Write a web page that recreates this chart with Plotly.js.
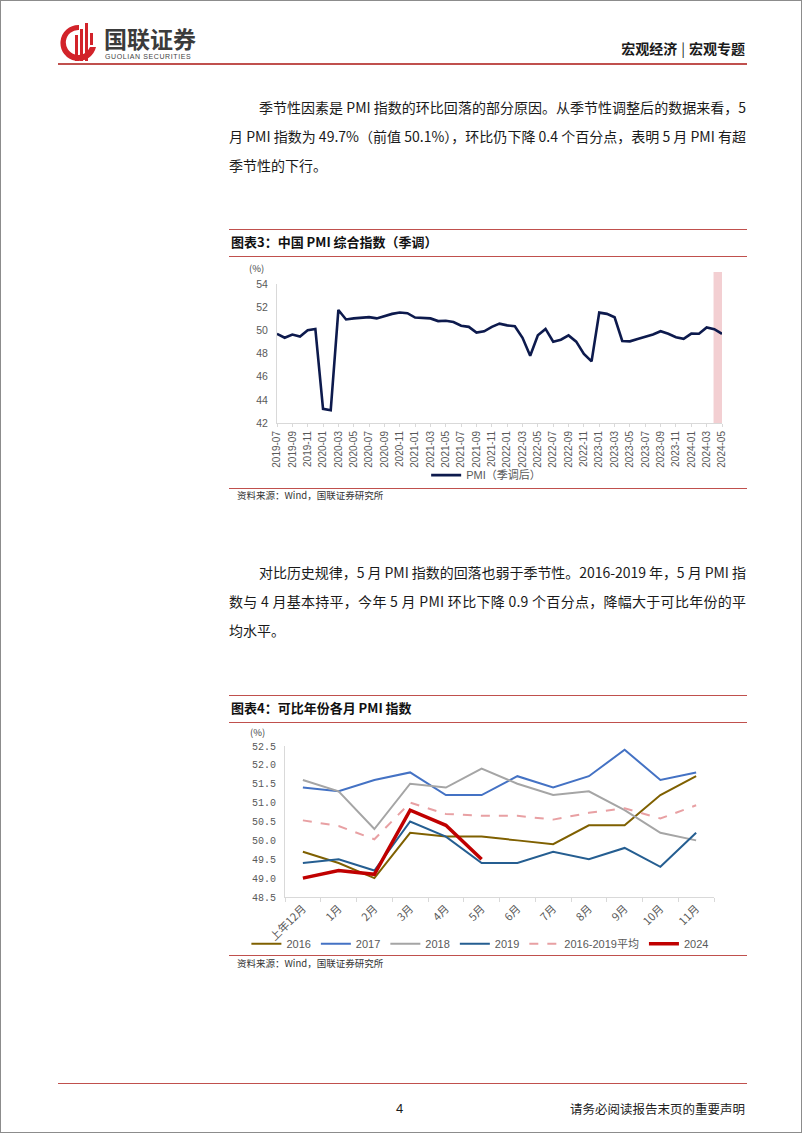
<!DOCTYPE html>
<html>
<head>
<meta charset="utf-8">
<script src="https://cdn.plot.ly/plotly-3.0.1.min.js"></script>
<style>
  html, body { margin:0; padding:0; background:#fff; }
  #page { position:relative; width:802px; height:1133px; box-sizing:border-box; border:1px solid #8c8c8c; overflow:hidden;
          font-family:"Noto Sans CJK SC","Noto Sans",sans-serif; color:#1a1a1a; }
  .abs { position:absolute; }
  .hline { position:absolute; height:0; }
  .para { position:absolute; font-size:14px; line-height:29px; white-space:nowrap; }
  .ctitle { position:absolute; left:230px; font-size:13px; font-weight:bold; line-height:16px; color:#111; }
  .src { position:absolute; left:236px; font-size:9.5px; color:#333; line-height:12px; }
</style>
</head>
<body>
<div id="page">
  <!-- header logo -->
  <svg class="abs" style="left:58px;top:20px" width="40" height="42" viewBox="0 0 40 42">
    <path d="M20 4 A18 18 0 1 0 37 26 L31 26 A12.5 12.5 0 1 1 20 9 Z" fill="#d2232a"/>
    <rect x="16" y="14" width="3" height="26" fill="#d2232a"/>
    <rect x="21" y="8" width="3" height="32" fill="#d2232a"/>
    <rect x="26" y="2" width="3" height="38" fill="#d2232a"/>
    <rect x="31" y="12" width="3" height="12" fill="#d2232a"/>
  </svg>
  <div class="abs" style="left:103px;top:24px;font-size:23px;font-weight:bold;color:#3b3b3b;line-height:26px">国联证券</div>
  <div class="abs" style="left:104px;top:52px;font-size:7px;color:#444;letter-spacing:0.6px;line-height:8px;font-family:'Liberation Sans',sans-serif">GUOLIAN SECURITIES</div>
  <div class="abs" style="right:56px;top:38px;font-size:14px;font-weight:bold;color:#1a1a1a;line-height:18px">宏观经济<span style="margin:0 4px;font-weight:normal">|</span>宏观专题</div>
  <div class="hline" style="left:57px;width:689px;top:62px;border-top:2px solid #c0504d"></div>

  <!-- paragraph 1 -->
  <div class="para fit" data-w="487" style="left:258px;top:92px"><span>季节性因素是 PMI 指数的环比回落的部分原因。从季节性调整后的数据来看，5</span></div>
  <div class="para fit" data-w="517" style="left:228px;top:121px"><span>月 PMI 指数为 49.7%（前值 50.1%），环比仍下降 0.4 个百分点，表明 5 月 PMI 有超</span></div>
  <div class="para" style="left:228px;top:150px">季节性的下行。</div>

  <!-- chart 3 header -->
  <div class="hline" style="left:228px;width:518px;top:228px;border-top:1px solid #c0504d"></div>
  <div class="ctitle" style="top:233px">图表3：中国 PMI 综合指数（季调）</div>
  <div class="hline" style="left:228px;width:518px;top:255px;border-top:1px solid #c0504d"></div>
  <div id="chart3" class="abs" style="left:228px;top:257px;width:520px;height:229px"></div>
  <div class="hline" style="left:228px;width:518px;top:487px;border-top:1px solid #c0504d"></div>
  <div class="src" style="top:488px">资料来源：Wind，国联证券研究所</div>

  <!-- paragraph 2 -->
  <div class="para fit" data-w="487" style="left:258px;top:557px"><span>对比历史规律，5 月 PMI 指数的回落也弱于季节性。2016-2019 年，5 月 PMI 指</span></div>
  <div class="para fit" data-w="517" style="left:228px;top:586px"><span>数与 4 月基本持平，今年 5 月 PMI 环比下降 0.9 个百分点，降幅大于可比年份的平</span></div>
  <div class="para" style="left:228px;top:615px">均水平。</div>

  <!-- chart 4 header -->
  <div class="hline" style="left:228px;width:518px;top:694px;border-top:1px solid #c0504d"></div>
  <div class="ctitle" style="top:699px">图表4：可比年份各月 PMI 指数</div>
  <div class="hline" style="left:228px;width:518px;top:721px;border-top:1px solid #c0504d"></div>
  <div id="chart4" class="abs" style="left:228px;top:722px;width:520px;height:231px"></div>
  <div class="hline" style="left:228px;width:518px;top:954px;border-top:1px solid #c0504d"></div>
  <div class="src" style="top:956px">资料来源：Wind，国联证券研究所</div>

  <!-- footer -->
  <div class="hline" style="left:57px;width:689px;top:1082px;border-top:1px solid #c0504d"></div>
  <div class="abs" style="left:395px;top:1100px;font-size:13px;line-height:16px;font-family:'Liberation Sans',sans-serif">4</div>
  <div class="abs" style="right:56px;top:1100px;font-size:12.5px;line-height:16px;color:#222">请务必阅读报告末页的重要声明</div>
</div>

<script>
// justify single lines exactly to their target width
document.querySelectorAll('.fit').forEach(function (el) {
  var span = el.firstElementChild;
  var target = parseFloat(el.getAttribute('data-w'));
  var n = span.textContent.length;
  var w = span.getBoundingClientRect().width;
  span.style.letterSpacing = ((target - w) / (n - 1)) + 'px';
});

// ---------- Chart 3 data ----------
const pmiMonths = [
  '2019-07','2019-08','2019-09','2019-10','2019-11','2019-12',
  '2020-01','2020-02','2020-03','2020-04','2020-05','2020-06','2020-07','2020-08','2020-09','2020-10','2020-11','2020-12',
  '2021-01','2021-02','2021-03','2021-04','2021-05','2021-06','2021-07','2021-08','2021-09','2021-10','2021-11','2021-12',
  '2022-01','2022-02','2022-03','2022-04','2022-05','2022-06','2022-07','2022-08','2022-09','2022-10','2022-11','2022-12',
  '2023-01','2023-02','2023-03','2023-04','2023-05','2023-06','2023-07','2023-08','2023-09','2023-10','2023-11','2023-12',
  '2024-01','2024-02','2024-03','2024-04','2024-05'
];
const pmiSA = [
  49.7,49.36,49.64,49.47,50.0,50.12,
  43.22,43.1,51.76,50.94,51.03,51.08,51.14,51.03,51.25,51.42,51.54,51.48,
  51.1,51.06,51.03,50.8,50.83,50.72,50.4,50.3,49.8,49.92,50.3,50.58,
  50.43,50.35,49.36,47.8,49.58,50.12,49.02,49.19,49.56,49.02,47.97,47.32,
  51.53,51.42,51.13,49.08,49.05,49.25,49.44,49.64,49.92,49.7,49.41,49.27,
  49.72,49.7,50.25,50.1,49.7
];
const pmiSeriesName = 'PMI（季调后）';

// ---------- Chart 4 data ----------
const monthLabels = ['上年12月','1月','2月','3月','4月','5月','6月','7月','8月','9月','10月','11月'];
const pmi2016 = [49.7,49.4,49.0,50.2,50.1,50.1,50.0,49.9,50.4,50.4,51.2,51.7];
const pmi2017 = [51.4,51.3,51.6,51.8,51.2,51.2,51.7,51.4,51.7,52.4,51.6,51.8];
const pmi2018 = [51.6,51.3,50.3,51.5,51.4,51.9,51.5,51.2,51.3,50.8,50.2,50.0];
const pmi2019 = [49.4,49.5,49.2,50.5,50.1,49.4,49.4,49.7,49.5,49.8,49.3,50.2];
const pmiAvg  = [50.53,50.38,50.03,51.0,50.7,50.65,50.65,50.55,50.73,50.85,50.58,50.93];
const pmi2024 = [49.0,49.2,49.1,50.8,50.4,49.5];

const axisGrey = '#d9d9d9';
const tickGrey = '#595959';
const cfg = {staticPlot:true, displayModeBar:false};

// ---------- Chart 3 ----------
Plotly.newPlot('chart3', [{
  x: pmiMonths, y: pmiSA, type:'scatter', mode:'lines', name: pmiSeriesName,
  line:{color:'#0d1a4d', width:2.6}, showlegend:true
}], {
  width:520, height:229,
  margin:{l:48, r:27, t:26, b:64, autoexpand:false},
  paper_bgcolor:'rgba(0,0,0,0)', plot_bgcolor:'rgba(0,0,0,0)',
  font:{family:'"Liberation Sans","Noto Sans CJK SC",sans-serif', color:tickGrey, size:10},
  xaxis:{type:'category', range:[0, pmiMonths.length-1], tickmode:'linear', tick0:0, dtick:2,
         tickangle:-90, tickfont:{size:10, color:tickGrey}, showgrid:false, zeroline:false, automargin:false,
         showline:true, linecolor:axisGrey, linewidth:1, ticks:'outside', ticklen:3, tickcolor:axisGrey},
  yaxis:{range:[42,54], dtick:2, showgrid:false, zeroline:false, showline:true, linecolor:axisGrey, linewidth:1,
         tickfont:{size:10.5, color:tickGrey}, ticks:'', ticklabelstandoff:6, automargin:false},
  shapes:[{type:'rect', xref:'x', yref:'paper', x0:pmiMonths.length-2.1, x1:pmiMonths.length-1, y0:0, y1:1.087,
           fillcolor:'rgba(232,160,165,0.5)', line:{width:0}, layer:'below'}],
  annotations:[{text:'(%)', xref:'paper', yref:'paper', x:-0.047, y:1.115, xanchor:'center', yanchor:'middle', showarrow:false,
                font:{size:9.5, color:'#444', family:'"Noto Sans CJK SC",sans-serif'}}],
  legend:{orientation:'h', x:0.47, xanchor:'center', y:-0.375, yanchor:'middle',
          font:{size:11, color:tickGrey, family:'"Liberation Sans","Noto Sans CJK SC",sans-serif'}, bgcolor:'rgba(0,0,0,0)'},
  showlegend:true
}, cfg);

// ---------- Chart 4 ----------
const series4 = [
  {name:'2016', y:pmi2016, color:'#7f6000', width:2},
  {name:'2017', y:pmi2017, color:'#4472c4', width:2},
  {name:'2018', y:pmi2018, color:'#a5a5a5', width:2},
  {name:'2019', y:pmi2019, color:'#255e91', width:2},
  {name:'2016-2019平均', y:pmiAvg, color:'#e8a0a3', width:2, dash:'dash'},
  {name:'2024', y:pmi2024, color:'#c00000', width:3.5}
];
const traces4 = series4.map(s => ({
  x: monthLabels.slice(0, s.y.length), y: s.y, type:'scatter', mode:'lines', name:s.name,
  line:{color:s.color, width:s.width, dash:s.dash || 'solid'}
}));
Plotly.newPlot('chart4', traces4, {
  width:520, height:231,
  margin:{l:56, r:35, t:23, b:57, autoexpand:false},
  paper_bgcolor:'rgba(0,0,0,0)', plot_bgcolor:'rgba(0,0,0,0)',
  font:{family:'"Liberation Sans","Noto Sans CJK SC",sans-serif', color:tickGrey, size:11},
  xaxis:{type:'category', categoryorder:'array', categoryarray:monthLabels, range:[-0.5, 11.5],
         tickangle:-45, tickson:'boundaries', ticks:'outside', ticklen:4, tickcolor:axisGrey, automargin:false,
         showline:true, linecolor:axisGrey, showgrid:false, zeroline:false,
         tickfont:{size:11, color:tickGrey, family:'"Noto Sans CJK SC",sans-serif'}},
  yaxis:{range:[48.5,52.5], dtick:0.5, tickformat:'.1f', showgrid:false, zeroline:false, automargin:false,
         showline:true, linecolor:axisGrey, ticks:'', ticklabelstandoff:6,
         tickfont:{size:10, color:tickGrey, family:'"Liberation Mono","DejaVu Sans Mono",monospace'}},
  annotations:[{text:'(%)', xref:'paper', yref:'paper', x:-0.065, y:1.093, xanchor:'center', yanchor:'middle', showarrow:false,
                font:{size:9.5, color:'#444', family:'"Noto Sans CJK SC",sans-serif'}}],
  legend:{orientation:'h', x:-0.09, xanchor:'left', y:-0.31, yanchor:'middle', traceorder:'normal',
          font:{size:11, color:tickGrey, family:'"Liberation Sans","Noto Sans CJK SC",sans-serif'}, bgcolor:'rgba(0,0,0,0)'},
  showlegend:true
}, cfg);
</script>
</body>
</html>
